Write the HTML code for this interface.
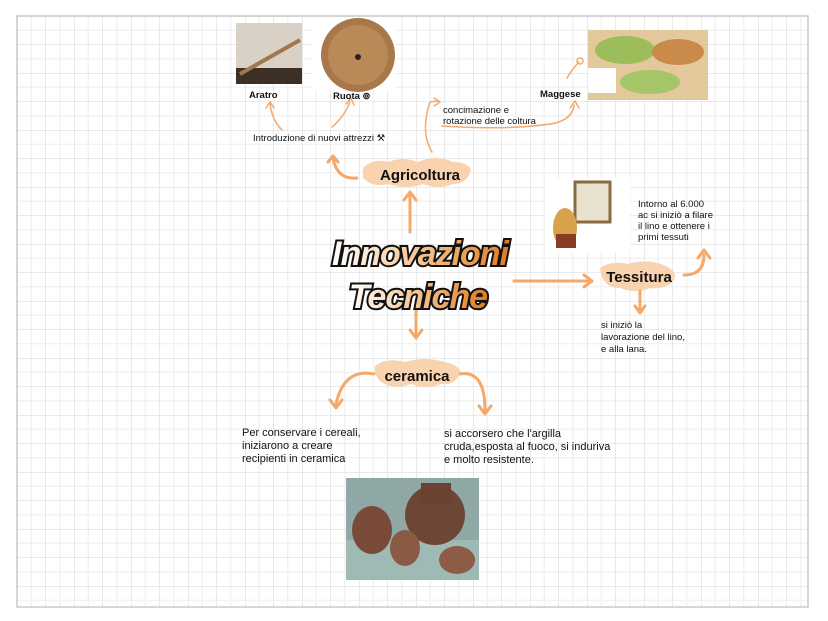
<!DOCTYPE html>
<html><head><meta charset="utf-8"><style>
html,body{margin:0;padding:0;background:#fff;}
svg{display:block;}
text{font-family:"Liberation Sans",sans-serif;}
</style></head><body>
<svg width="828" height="621" viewBox="0 0 828 621" xmlns="http://www.w3.org/2000/svg">
<defs>
<pattern id="g" x="17" y="16" width="28.5" height="28.5" patternUnits="userSpaceOnUse">
<path d="M14.25 0V28.5M0 14.25H28.5" stroke="#eeeeee" stroke-width="1"/>
<path d="M0 0V28.5M0 0H28.5" stroke="#d6d6d6" stroke-width="1"/>
</pattern>
<linearGradient id="og" x1="0" y1="0" x2="1" y2="0">
<stop offset="0" stop-color="#fff"/><stop offset="0.5" stop-color="#f6c38e"/><stop offset="1" stop-color="#e07a1f"/>
</linearGradient>
</defs>
<rect x="17" y="16" width="791" height="591" fill="url(#g)" stroke="#c8c8c8" stroke-width="1.5"/>

<!-- images -->
<rect x="236" y="23" width="66" height="61" fill="#3b2f26"/>
<rect x="236" y="23" width="66" height="45" fill="#d9d1c6"/>
<path d="M240 74 L300 40" stroke="#a07850" stroke-width="4"/>
<rect x="312" y="18" width="84" height="72" fill="#fff"/>
<circle cx="358" cy="55" r="37" fill="#a8784a"/>
<circle cx="358" cy="55" r="30" fill="#b98a58"/>
<circle cx="358" cy="57" r="3" fill="#222"/>
<rect x="588" y="30" width="120" height="70" fill="#e2c89a"/>
<ellipse cx="625" cy="50" rx="30" ry="14" fill="#9bbd5a"/>
<ellipse cx="678" cy="52" rx="26" ry="13" fill="#c98a4a"/>
<ellipse cx="650" cy="82" rx="30" ry="12" fill="#a6c468"/>
<rect x="588" y="68" width="28" height="25" fill="#fff"/>
<rect x="545" y="178" width="85" height="75" fill="#fff"/>
<rect x="575" y="182" width="35" height="40" fill="#e9e2cf" stroke="#8a6a40" stroke-width="3"/>
<ellipse cx="565" cy="228" rx="12" ry="20" fill="#d7a24b"/>
<rect x="556" y="234" width="20" height="14" fill="#8b3c22"/>
<rect x="346" y="478" width="133" height="102" fill="#8fa8a6"/>
<rect x="346" y="540" width="133" height="40" fill="#9fb9b5"/>
<ellipse cx="372" cy="530" rx="20" ry="24" fill="#7a4a38"/>
<ellipse cx="435" cy="515" rx="30" ry="30" fill="#6e4636"/>
<rect x="421" y="483" width="30" height="20" fill="#6a4232"/>
<ellipse cx="405" cy="548" rx="15" ry="18" fill="#8a5a44"/>
<ellipse cx="457" cy="560" rx="18" ry="14" fill="#8e5c46"/>

<!-- blobs -->
<g fill="#f9d3b0">
<path d="M363 168 q10 -10 25 -6 q15 -6 30 0 q18 -8 35 0 q15 0 18 8 q-4 14 -18 14 q-15 6 -30 0 q-18 6 -35 0 q-15 4 -25 -6 z"/>
<path d="M375 366 q12 -9 30 -4 q20 -6 40 0 q12 2 16 10 q-6 14 -20 12 q-15 6 -30 0 q-18 6 -30 -2 q-8 -8 -6 -16 z"/>
<path d="M600 268 q12 -8 28 -4 q20 -6 38 2 q12 6 8 14 q-8 10 -24 8 q-15 6 -30 0 q-18 0 -20 -20 z"/>
</g>

<!-- connectors -->
<g fill="none" stroke="#f5a868" stroke-width="3" stroke-linecap="round" stroke-linejoin="round">
<path d="M410 232 V195"/><path d="M404 200 l6 -8 l6 8"/>
<path d="M357 178 q-20 2 -24 -20"/><path d="M328 162 l5 -6 l5 6"/>
<path d="M416 300 V335"/><path d="M410 330 l6 8 l6 -8"/>
<path d="M514 281 H592"/><path d="M584 275 l8 6 l-8 6"/>
<path d="M640 291 V312"/><path d="M635 306 l5 7 l5 -7"/>
<path d="M684 275 q20 0 20 -20"/><path d="M698 258 l6 -8 l6 8"/>
<path d="M374 374 q-30 -6 -38 30"/><path d="M330 400 l6 8 l6 -8"/>
<path d="M460 374 q25 -4 25 36"/><path d="M479 406 l6 8 l6 -8"/>
</g>
<g fill="none" stroke="#f5a868" stroke-width="1.5" stroke-linecap="round">
<path d="M432 152 q-12 -20 -2 -50 l8 -1"/><path d="M434 98 l6 4 l-6 4"/>
<path d="M282 130 q-10 -10 -12 -26"/><path d="M266 108 l4 -6 l4 6"/>
<path d="M332 127 q12 -10 18 -25"/><path d="M346 104 l5 -6 l3 7"/>
<path d="M442 126 q60 4 100 -1 q30 -2 32 -20"/><path d="M570 108 l5 -7 l4 7"/>
<path d="M567 78 q6 -10 12 -16"/><circle cx="580" cy="61" r="3"/>
</g>

<!-- title -->
<g font-family="Liberation Serif,serif" font-style="italic" font-weight="bold" text-anchor="middle" fill="url(#og)" stroke="#111" stroke-width="4" paint-order="stroke" style="letter-spacing:-1px">
<text x="420" y="265" font-size="34">Innovazioni</text>
<text x="418" y="308" font-size="34">Tecniche</text>
</g>

<!-- node labels -->
<g fill="#111" font-weight="bold">
<text x="420" y="180" font-size="15" text-anchor="middle">Agricoltura</text>
<text x="417" y="381" font-size="15" text-anchor="middle">ceramica</text>
<text x="639" y="282" font-size="15" text-anchor="middle">Tessitura</text>
</g>
<g fill="#111" font-size="9.5">
<text x="249" y="98" font-weight="bold">Aratro</text>
<text x="333" y="99" font-weight="bold">Ruota ⊚</text>
<text x="540" y="97" font-weight="bold">Maggese</text>
<text x="443" y="113">concimazione e</text>
<text x="443" y="124">rotazione delle coltura</text>
<text x="253" y="141">Introduzione di nuovi attrezzi ⚒</text>
<text x="638" y="207">Intorno al 6.000</text>
<text x="638" y="218">ac si iniziò a filare</text>
<text x="638" y="229">il lino e ottenere i</text>
<text x="638" y="240">primi tessuti</text>
<text x="601" y="328">si iniziò la</text>
<text x="601" y="340">lavorazione del lino,</text>
<text x="601" y="352">e alla lana.</text>
</g>
<g fill="#111" font-size="11">
<text x="242" y="436">Per conservare i cereali,</text>
<text x="242" y="449">iniziarono a creare</text>
<text x="242" y="462">recipienti in ceramica</text>
<text x="444" y="437">si accorsero che l'argilla</text>
<text x="444" y="450">cruda,esposta al fuoco, si induriva</text>
<text x="444" y="463">e molto resistente.</text>
</g>
</svg>
</body></html>
